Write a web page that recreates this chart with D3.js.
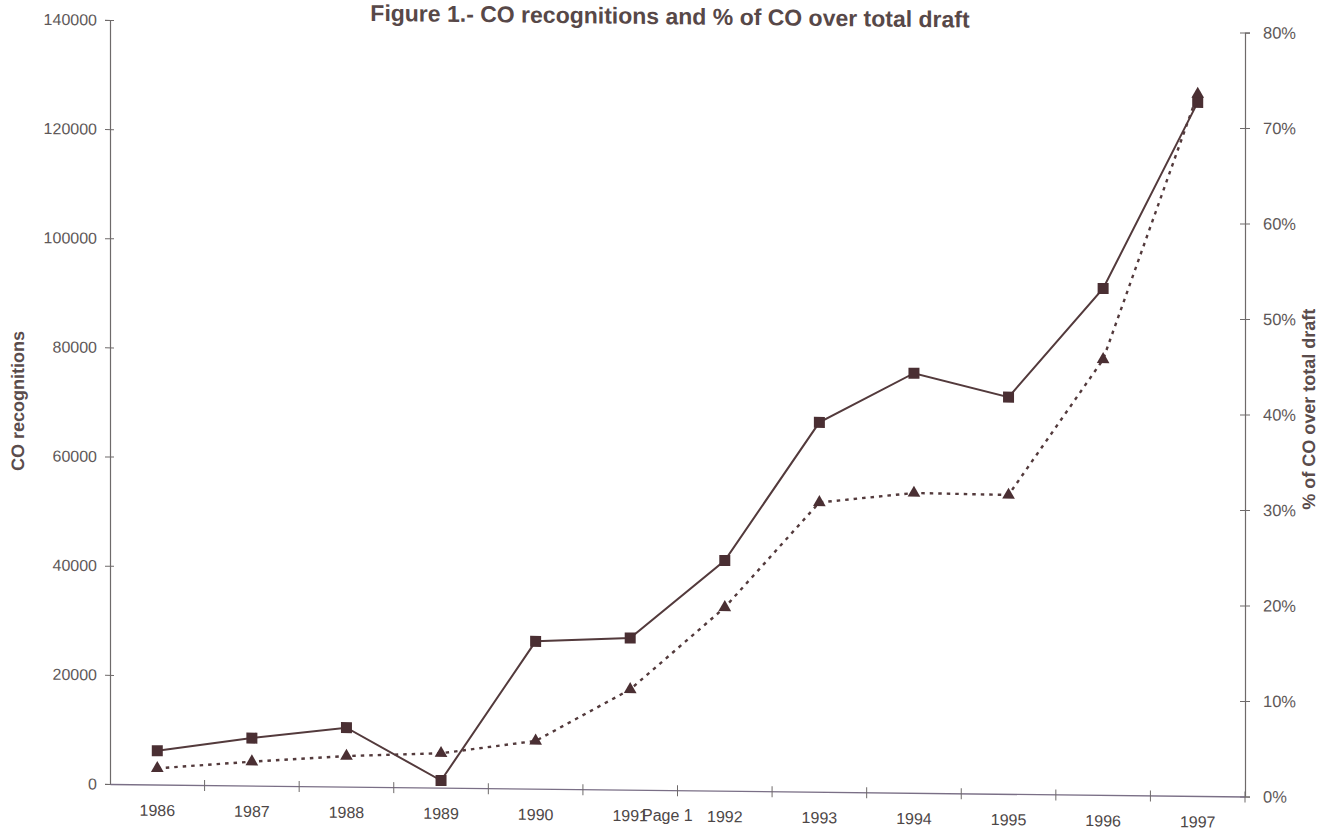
<!DOCTYPE html>
<html>
<head>
<meta charset="utf-8">
<script src="https://cdn.jsdelivr.net/npm/d3@7"></script>
<style>
  html, body { margin: 0; padding: 0; background: #fff; }
  svg { display: block; font-family: Arial, "Liberation Sans", sans-serif; }
</style>
</head>
<body>
<svg id="chart" width="1320" height="830"></svg>
<script>
// ---- data ----
const years = ["1986","1987","1988","1989","1990","1991","1992","1993","1994","1995","1996","1997"];
const coRecognitions = [6200, 8700, 10800, 1300, 27000, 27800, 42200, 67700, 76900, 72700, 92800, 127100];
const coPercent = [0.017, 0.025, 0.032, 0.036, 0.050, 0.105, 0.192, 0.303, 0.314, 0.313, 0.456, 0.735];
const leftTicks = [0, 20000, 40000, 60000, 80000, 100000, 120000, 140000];
const rightTicks = [0, 0.1, 0.2, 0.3, 0.4, 0.5, 0.6, 0.7, 0.8];
const titleText = "Figure 1.- CO recognitions and % of CO over total draft";
const leftTitle = "CO recognitions";
const rightTitle = "% of CO over total draft";

// ---- layout ----
const L = 110, R = 1245, T = 20, B = 784;
const shear = 0.011;            // scan tilt of the original page
const svg = d3.select("#chart");
const g = svg.append("g")
  .attr("transform", `translate(0,${-L*shear}) skewY(${Math.atan(shear)*180/Math.PI})`);

const x = d3.scaleBand().domain(years).range([L, R]).padding(0);
const cx = d => x(d) + x.bandwidth()/2;
const yL = d3.scaleLinear().domain([0, 140000]).range([B, T]);
const yR = d3.scaleLinear().domain([0, 0.8]).range([B, T]);

const axisColor = "#6e6a6a";
const textColor = "#4d4747";
const lineColor = "#533a3c";
const markColor = "#4a2f33";

// left axis
const ga = g.append("g").attr("transform", `translate(${L},0)`)
  .call(d3.axisLeft(yL).tickValues(leftTicks).tickFormat(d3.format("d")).tickSizeOuter(0).tickSize(5).tickPadding(8));
ga.select(".domain").attr("stroke", axisColor).attr("stroke-width", 1.2);
ga.selectAll(".tick line").attr("x1", 4).attr("x2", -5).attr("stroke", axisColor);
ga.selectAll(".tick text").attr("font-size", 16).attr("fill", "#5e5858")
  .attr("font-family", "Arial, 'Liberation Sans', sans-serif");

// right axis
const gr = g.append("g").attr("transform", `translate(${R},0)`)
  .call(d3.axisRight(yR).tickValues(rightTicks).tickFormat(d3.format(".0%")).tickSizeOuter(0).tickSize(5).tickPadding(13));
gr.select(".domain").attr("stroke", axisColor).attr("stroke-width", 1.2);
gr.selectAll(".tick line").attr("x1", -5).attr("x2", 5).attr("stroke", axisColor);
gr.selectAll(".tick text").attr("font-size", 16.5).attr("fill", "#5e5858")
  .attr("font-family", "Arial, 'Liberation Sans', sans-serif");

// bottom axis
const gb = g.append("g").attr("transform", `translate(0,${B})`)
  .call(d3.axisBottom(x).tickSize(0).tickPadding(20).tickSizeOuter(0));
gb.select(".domain").attr("stroke", "#7a6f86").attr("stroke-width", 1.3);
gb.selectAll(".tick text").attr("font-size", 16).attr("fill", textColor)
  .attr("font-family", "Arial, 'Liberation Sans', sans-serif");
gb.selectAll(".boundary").data(years.slice(1).concat(["end"]))
  .enter().append("line")
  .attr("x1", d => d === "end" ? R : x(d))
  .attr("x2", d => d === "end" ? R : x(d))
  .attr("y1", -5).attr("y2", 6)
  .attr("stroke", axisColor).attr("stroke-width", 1);

// CO recognitions line (solid)
const lineL = d3.line().x((d,i) => cx(years[i])).y(d => yL(d));
g.append("path").datum(coRecognitions)
  .attr("d", lineL).attr("fill", "none")
  .attr("stroke", lineColor).attr("stroke-width", 2);

// % line (dotted)
const lineR = d3.line().x((d,i) => cx(years[i])).y(d => yR(d));
g.append("path").datum(coPercent)
  .attr("d", lineR).attr("fill", "none")
  .attr("stroke", lineColor).attr("stroke-width", 2.4)
  .attr("stroke-dasharray", "3.5,5");

// markers
g.selectAll(".sq").data(coRecognitions).enter().append("rect")
  .attr("x", (d,i) => cx(years[i]) - 5.5)
  .attr("y", d => yL(d) - 5.5)
  .attr("width", 11).attr("height", 11)
  .attr("fill", markColor);

const tri = d3.symbol().type(d3.symbolTriangle).size(70);
g.selectAll(".tri").data(coPercent).enter().append("path")
  .attr("d", tri)
  .attr("transform", (d,i) => `translate(${cx(years[i])},${yR(d)})`)
  .attr("fill", markColor);

// axis titles
g.append("text")
  .attr("transform", `translate(24,${(T+B)/2}) rotate(-90)`)
  .attr("text-anchor", "middle")
  .attr("font-size", 18).attr("font-weight", "bold").attr("fill", "#5a4c4c")
  .text(leftTitle);

g.append("text")
  .attr("transform", `translate(1315,${(T+B)/2 - 6}) rotate(-90)`)
  .attr("text-anchor", "middle")
  .attr("font-size", 18).attr("font-weight", "bold").attr("fill", "#5a4c4c")
  .text(rightTitle);

// title
g.append("text")
  .attr("x", 670).attr("y", 18)
  .attr("text-anchor", "middle")
  .attr("font-size", 23).attr("font-weight", "bold").attr("fill", "#574848")
  .text(titleText);

// page footer
svg.append("text")
  .attr("x", 642).attr("y", 821)
  .attr("font-size", 16).attr("fill", textColor)
  .text("Page 1");
</script>
</body>
</html>
